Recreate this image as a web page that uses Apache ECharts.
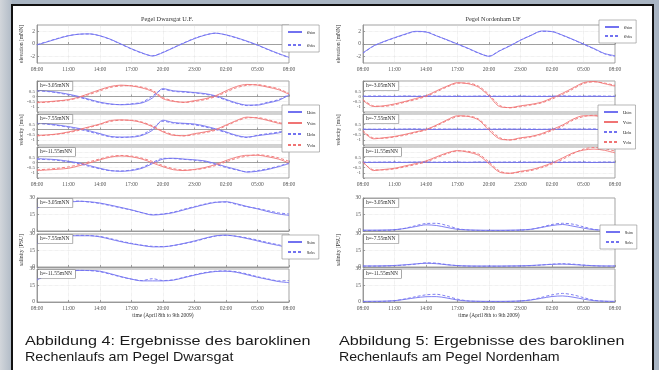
<!DOCTYPE html>
<html>
<head>
<meta charset="utf-8"/>
<title>Pegel Dwarsgat / Nordenham</title>
<style>
  html, body { margin: 0; padding: 0; background: #a9b5c3; }
  #chart { width: 659px; height: 370px; }
</style>
</head>
<body>
<div id="chart"></div>
<script src="https://cdn.jsdelivr.net/npm/echarts@6.0.0/dist/echarts.min.js"></script>
<script>
// time axis, hourly from 08:00 (April 8th) to 08:00 (April 9th)
var hours = ['08:00','09:00','10:00','11:00','12:00','13:00','14:00','15:00','16:00','17:00','18:00','19:00',
             '20:00','21:00','22:00','23:00','00:00','01:00','02:00','03:00','04:00','05:00','06:00','07:00','08:00'];
var depthLabels = ['h=-3.05mNN', 'h=-7.55mNN', 'h=-11.55mNN'];
var titles = ['Pegel Dwarsgat U.F.', 'Pegel Nordenham UF'];
var captions = [
  ['Abbildung 4: Ergebnisse des baroklinen', 'Rechenlaufs am Pegel Dwarsgat'],
  ['Abbildung 5: Ergebnisse des baroklinen', 'Rechenlaufs am Pegel Nordenham']
];
var elevTicks = [-2, 0, 2];
var velTicks = [-1.5, -1, -0.5, 0, 0.5, 1, 1.5];
var velLabels = [-1, -0.5, 0, 0.5];
var salTicks = [0, 15, 30];

// ---- Dwarsgat ----
var elevL_sim = [-0.15, 0.35, 0.85, 1.3, 1.55, 1.6, 1.3, 0.75, 0.0, -0.75, -1.4, -1.9, -1.35, -0.6, 0.15, 0.85, 1.4, 1.7, 1.45, 1.0, 0.45, -0.15, -0.85, -1.5, -2.1];
var elevL_obs = [-0.1, 0.4, 0.9, 1.32, 1.55, 1.58, 1.28, 0.7, -0.05, -0.8, -1.45, -1.85, -1.3, -0.55, 0.2, 0.9, 1.42, 1.72, 1.42, 0.95, 0.4, -0.2, -0.9, -1.55, -2.15];

var uL1_sim = [0.6, 0.52, 0.4, 0.22, 0.0, -0.28, -0.55, -0.72, -0.8, -0.75, -0.62, -0.14, 0.76, 0.55, 0.48, 0.38, 0.28, 0.07, -0.28, -0.62, -0.83, -0.83, -0.62, -0.38, 0.14];
var vL1_sim = [-0.55, -0.5, -0.42, -0.3, -0.05, 0.3, 0.66, 0.97, 1.1, 1.02, 0.83, 0.48, -0.21, -0.48, -0.55, -0.4, -0.22, 0.07, 0.55, 0.97, 1.17, 1.1, 0.9, 0.66, 0.21];
var uL1_obs = [0.55, 0.48, 0.35, 0.15, -0.08, -0.35, -0.6, -0.75, -0.78, -0.7, -0.55, 0.05, 0.68, 0.5, 0.42, 0.35, 0.22, 0.0, -0.35, -0.68, -0.88, -0.8, -0.55, -0.3, 0.2];
var vL1_obs = [-0.6, -0.55, -0.45, -0.35, -0.12, 0.2, 0.55, 0.88, 1.02, 1.05, 0.9, 0.6, -0.1, -0.42, -0.58, -0.48, -0.3, -0.02, 0.42, 0.85, 1.08, 1.15, 0.98, 0.75, 0.3];

var uL2_sim = [0.67, 0.55, 0.43, 0.28, 0.1, -0.13, -0.4, -0.67, -0.73, -0.73, -0.57, -0.07, 0.9, 0.67, 0.6, 0.53, 0.33, 0.07, -0.23, -0.57, -0.73, -0.6, -0.47, -0.33, -0.07];
var vL2_sim = [-0.57, -0.52, -0.42, -0.23, 0.0, 0.27, 0.53, 0.87, 0.93, 0.87, 0.67, 0.27, -0.23, -0.57, -0.6, -0.4, -0.23, 0.0, 0.43, 0.87, 1.2, 1.1, 0.87, 0.6, 0.43];
var uL2_obs = [0.6, 0.5, 0.38, 0.22, 0.02, -0.22, -0.48, -0.72, -0.78, -0.7, -0.5, 0.1, 0.8, 0.62, 0.55, 0.45, 0.25, 0.0, -0.3, -0.62, -0.78, -0.55, -0.4, -0.25, 0.0];
var vL2_obs = [-0.62, -0.55, -0.45, -0.3, -0.08, 0.2, 0.48, 0.78, 0.9, 0.9, 0.72, 0.35, -0.15, -0.5, -0.62, -0.5, -0.3, -0.08, 0.35, 0.8, 1.12, 1.15, 0.95, 0.68, 0.5];

var uL3_sim = [0.37, 0.33, 0.26, 0.12, -0.04, -0.3, -0.56, -0.78, -0.85, -0.78, -0.56, -0.11, 0.33, 0.41, 0.33, 0.26, 0.15, -0.11, -0.41, -0.67, -0.93, -0.85, -0.67, -0.41, -0.11];
var vL3_sim = [-0.78, -0.72, -0.65, -0.56, -0.32, -0.04, 0.26, 0.52, 0.63, 0.55, 0.33, -0.04, -0.41, -0.7, -0.78, -0.67, -0.48, -0.19, 0.19, 0.52, 0.7, 0.7, 0.55, 0.33, -0.04];
var uL3_obs = [0.3, 0.28, 0.2, 0.05, -0.12, -0.38, -0.62, -0.8, -0.82, -0.72, -0.48, 0.0, 0.4, 0.38, 0.3, 0.22, 0.08, -0.18, -0.48, -0.72, -0.9, -0.78, -0.6, -0.35, -0.05];
var vL3_obs = [-0.7, -0.65, -0.55, -0.42, -0.2, 0.08, 0.35, 0.6, 0.68, 0.62, 0.42, 0.1, -0.3, -0.6, -0.72, -0.7, -0.55, -0.3, 0.05, 0.4, 0.62, 0.75, 0.65, 0.45, 0.12];

var sL1_sim = [24.8, 26, 26.3, 26.3, 27, 26.6, 25.4, 23.5, 21.4, 19.2, 16.7, 14.5, 15.2, 16.7, 19.2, 21.7, 24.1, 26, 26.6, 24.8, 22.3, 20.1, 17.6, 15.5, 14.2];
var sL1_obs = [20.7, 24.8, 26.5, 27, 27.2, 26.2, 25, 23, 21, 19, 16.5, 15, 15.5, 17.2, 19.8, 22.2, 24.5, 26.2, 26.3, 24.2, 22, 20.5, 18.5, 16.5, 15.5];
var sL2_sim = [24.6, 26.8, 27.8, 28.4, 28.4, 28.4, 27.4, 25.2, 23, 21.1, 19.6, 18.3, 18.3, 19.6, 21.5, 23.7, 26.2, 28.4, 29, 27.8, 25.9, 23.7, 21.5, 19.6, 17.4];
var sL2_obs = [21.5, 25.5, 27.5, 28.2, 28.8, 28.6, 27.8, 25.8, 23.5, 21.5, 19.8, 18.8, 18.6, 19.5, 21.2, 23.2, 25.8, 28, 28.8, 28, 26.5, 24.5, 22.2, 20.2, 18.2];
var sL3_sim = [19.9, 24.8, 27, 28, 28.7, 28.7, 28, 25.7, 23.1, 20.8, 19.2, 19.2, 19.2, 19.9, 22.1, 24.4, 26.4, 27.7, 28, 27, 24.8, 22.5, 20.5, 18.6, 17.6];
var sL3_obs = [21.5, 25.5, 27.5, 28.5, 28.8, 28.5, 27.5, 25.2, 22.8, 20.8, 19.5, 21.2, 19.5, 20.2, 22.5, 24.8, 26.8, 28, 28.3, 27.5, 25.5, 23, 21, 19.2, 19.5];

// ---- Nordenham ----
var elevR_sim = [-1.4, -0.3, 0.4, 1.0, 1.55, 2.0, 1.9, 1.28, 0.67, 0.0, -0.67, -1.4, -1.95, -1.1, -0.3, 0.6, 1.35, 2.05, 1.95, 1.4, 0.72, 0.0, -0.72, -1.5, -1.85];
var elevR_obs = [-1.45, -0.35, 0.35, 0.95, 1.5, 1.95, 1.92, 1.3, 0.62, -0.05, -0.72, -1.45, -1.9, -1.05, -0.25, 0.62, 1.38, 2.0, 1.98, 1.35, 0.68, -0.05, -0.78, -1.55, -1.95];

var uR1_sim = [0.02, 0.0, 0.01, 0.0, 0.02, 0.01, 0.0, 0.02, 0.01, 0.0, 0.01, 0.02, 0.0, 0.01, 0.0, 0.02, 0.01, 0.0, 0.01, 0.02, 0.0, 0.01, 0.02, 0.0, 0.01];
var vR1_sim = [-0.38, -0.97, -0.9, -0.72, -0.48, -0.2, 0.07, 0.55, 1.0, 1.34, 1.24, 0.9, 0.05, -0.97, -1.07, -0.9, -0.76, -0.55, -0.14, 0.31, 0.83, 1.34, 1.45, 1.24, 1.0];
var uR1_obs = [0.03, 0.05, 0.04, 0.02, 0.05, 0.03, 0.06, 0.04, 0.03, 0.05, 0.02, 0.04, 0.06, 0.03, 0.04, 0.05, 0.02, 0.04, 0.03, 0.06, 0.04, 0.03, 0.05, 0.04, 0.03];
var vR1_obs = [-0.3, -0.9, -0.95, -0.8, -0.55, -0.3, 0.0, 0.45, 0.92, 1.28, 1.3, 1.0, 0.2, -0.85, -1.1, -0.98, -0.82, -0.62, -0.25, 0.2, 0.72, 1.25, 1.42, 1.3, 1.08];

var uR2_sim = [0.01, 0.02, 0.0, 0.01, 0.03, 0.02, 0.01, 0.0, 0.02, 0.03, 0.01, 0.0, 0.02, 0.01, 0.03, 0.02, 0.0, 0.01, 0.02, 0.01, 0.03, 0.02, 0.01, 0.0, 0.02];
var vR2_sim = [-0.2, -0.9, -0.8, -0.67, -0.47, -0.23, 0.0, 0.43, 0.93, 1.33, 1.27, 0.93, -0.07, -0.9, -1.0, -0.8, -0.67, -0.4, 0.0, 0.43, 1.0, 1.33, 1.33, 1.2, 1.0];
var uR2_obs = [0.04, 0.02, 0.05, 0.03, 0.04, 0.06, 0.03, 0.05, 0.04, 0.02, 0.05, 0.04, 0.03, 0.06, 0.04, 0.03, 0.05, 0.02, 0.04, 0.05, 0.03, 0.04, 0.06, 0.03, 0.04];
var vR2_obs = [-0.1, -0.82, -0.85, -0.72, -0.55, -0.3, -0.05, 0.35, 0.85, 1.25, 1.3, 1.02, 0.1, -0.78, -1.02, -0.88, -0.72, -0.48, -0.1, 0.32, 0.9, 1.25, 1.38, 1.28, 1.1];

var uR3_sim = [0.0, 0.01, 0.02, 0.0, 0.01, 0.03, 0.02, 0.01, 0.0, 0.02, 0.01, 0.03, 0.0, 0.02, 0.01, 0.0, 0.02, 0.03, 0.01, 0.0, 0.02, 0.01, 0.0, 0.02, 0.01];
var vR3_sim = [0.1, -0.78, -0.67, -0.56, -0.33, -0.11, 0.15, 0.55, 0.93, 1.15, 1.0, 0.7, -0.11, -0.93, -1.04, -0.85, -0.7, -0.41, -0.04, 0.44, 0.93, 1.2, 1.3, 1.18, 0.93];
var uR3_obs = [0.05, 0.03, 0.04, 0.06, 0.02, 0.04, 0.05, 0.03, 0.06, 0.04, 0.02, 0.05, 0.04, 0.03, 0.05, 0.06, 0.03, 0.04, 0.02, 0.05, 0.04, 0.06, 0.03, 0.05, 0.04];
var vR3_obs = [0.0, -0.7, -0.72, -0.62, -0.42, -0.2, 0.05, 0.45, 0.85, 1.12, 1.08, 0.82, 0.05, -0.82, -1.05, -0.92, -0.78, -0.5, -0.15, 0.3, 0.85, 1.3, 1.45, 1.35, 1.1];

var sR1_sim = [0.8, 0.8, 0.9, 1.2, 2.3, 4.0, 5.6, 5.0, 3.2, 1.5, 1.0, 0.8, 0.7, 0.7, 0.8, 1.0, 1.6, 3.2, 5.0, 5.9, 4.4, 2.6, 1.2, 0.9, 0.8];
var sR1_obs = [0.5, 0.5, 0.6, 1.0, 2.5, 4.8, 6.8, 7.0, 5.0, 2.2, 0.9, 0.5, 0.4, 0.4, 0.5, 0.7, 1.5, 3.6, 5.9, 7.0, 6.2, 3.8, 1.5, 0.6, 0.5];
var sR2_sim = [1.0, 1.0, 1.1, 1.4, 2.0, 2.8, 3.4, 3.0, 2.0, 1.3, 1.0, 0.9, 0.9, 0.9, 1.0, 1.1, 1.4, 1.9, 2.4, 2.6, 2.2, 1.6, 1.2, 1.0, 1.0];
var sR2_obs = [0.8, 0.8, 0.9, 1.2, 1.8, 2.6, 3.8, 3.5, 2.2, 1.2, 0.8, 0.7, 0.7, 0.7, 0.8, 0.9, 1.2, 1.8, 2.6, 3.0, 2.6, 1.8, 1.1, 0.8, 0.8];
var sR3_sim = [0.6, 0.7, 0.8, 1.2, 2.4, 3.8, 4.8, 4.9, 3.6, 1.8, 0.9, 0.7, 0.6, 0.6, 0.7, 1.0, 1.8, 3.4, 5.0, 5.5, 4.4, 2.6, 1.2, 0.8, 0.6];
var sR3_obs = [0.4, 0.4, 0.6, 1.2, 2.8, 4.8, 6.5, 7.0, 5.2, 2.6, 1.0, 0.5, 0.4, 0.4, 0.5, 0.9, 2.0, 4.2, 6.5, 7.8, 6.5, 4.0, 1.6, 0.6, 0.4];

var SERIF = 'Liberation Serif';
var AX = '#8a8a8a';
var GRIDLINE = '#d6d6d6';
var BLUE = '#7272f0';
var RED = '#f07474';
var W = 252;

var figs = [
  { key: 'L', left: 37, ylabX: 22, capX: 25, capScale: [1.2, 1.06], legendLeft: [282, 282, 282], legendTop: [25, 105, 235],
    elev: [elevL_sim, elevL_obs],
    vel: [[uL1_sim, vL1_sim, uL1_obs, vL1_obs], [uL2_sim, vL2_sim, uL2_obs, vL2_obs], [uL3_sim, vL3_sim, uL3_obs, vL3_obs]],
    sal: [[sL1_sim, sL1_obs], [sL2_sim, sL2_obs], [sL3_sim, sL3_obs]] },
  { key: 'R', left: 363, ylabX: 339, capX: 339, capScale: [1.2, 1.05], legendLeft: [599, 598, 600], legendTop: [20, 105, 225],
    elev: [elevR_sim, elevR_obs],
    vel: [[uR1_sim, vR1_sim, uR1_obs, vR1_obs], [uR2_sim, vR2_sim, uR2_obs, vR2_obs], [uR3_sim, vR3_sim, uR3_obs, vR3_obs]],
    sal: [[sR1_sim, sR1_obs], [sR2_sim, sR2_obs], [sR3_sim, sR3_obs]] }
];

var velTops = [81, 114, 147], velH = 31;
var salTops = [198, 234, 269], salH = 33;

var grids = [], xAxes = [], yAxes = [], series = [], legends = [], graphics = [];

function addPanel(left, top, height, showX, yr, lines) {
  var i = grids.length;
  grids.push({ left: left, top: top, width: W, height: height, show: true,
               backgroundColor: '#fff', borderColor: AX, borderWidth: 0.8 });
  xAxes.push({
    gridIndex: i, type: 'category', data: hours, boundaryGap: false,
    axisLine: { lineStyle: { color: AX, width: 0.8 } },
    axisTick: { inside: true, length: 2, interval: 2, lineStyle: { color: AX, width: 0.8 } },
    axisLabel: { show: showX, interval: 2, fontSize: 5.5, fontFamily: SERIF, color: '#555', margin: 4 },
    splitLine: { show: true, interval: 2, lineStyle: { color: GRIDLINE, type: 'dotted', width: 0.6 } }
  });
  yAxes.push({
    gridIndex: i, type: 'value', min: yr.min, max: yr.max,
    axisLine: { show: true, lineStyle: { color: AX, width: 0.8 } },
    axisTick: { show: true, inside: true, length: 2, customValues: yr.ticks, lineStyle: { color: AX, width: 0.8 } },
    axisLabel: { customValues: yr.labels, showMinLabel: true, showMaxLabel: true, hideOverlap: false,
                 fontSize: yr.font || 5.5, fontFamily: SERIF, color: '#555', margin: 2 },
    splitLine: { show: true, lineStyle: { color: GRIDLINE, type: 'dotted', width: 0.6 } }
  });
  lines.forEach(function (l) {
    series.push({
      type: 'line', name: l.name, xAxisIndex: i, yAxisIndex: i, data: l.data,
      symbol: 'none', smooth: 0.3, silent: true,
      lineStyle: { color: l.color, width: 0.9, type: l.dashed ? [3, 2] : 'solid' },
      itemStyle: { color: l.color }
    });
  });
}

function addLegend(left, top, names, gap) {
  legends.push({
    orient: 'vertical', left: left, top: top, data: names, selectedMode: false,
    padding: [4, 4, 4, 5], itemWidth: 14, itemHeight: 6, itemGap: gap,
    backgroundColor: '#fff', borderColor: '#888', borderWidth: 0.6,
    itemStyle: { opacity: 0 },
    formatter: function (name) {
      var p = name.split('|')[1].split('_');
      return '{m|' + p[0] + '}{s|' + p[1] + '}';
    },
    textStyle: {
      rich: {
        m: { fontSize: 6, fontFamily: SERIF, color: '#333' },
        s: { fontSize: 3.8, fontFamily: SERIF, color: '#333', verticalAlign: 'bottom' }
      }
    }
  });
}

function text(x, y, str, size, opts) {
  var el = {
    type: 'text', x: x, y: y, z: 50,
    style: { text: str, fontSize: size, fontFamily: SERIF, fill: '#333', align: 'center', verticalAlign: 'middle' }
  };
  if (opts) {
    for (var k in opts) {
      if (k === 'style') { for (var s in opts.style) el.style[s] = opts.style[s]; }
      else el[k] = opts[k];
    }
  }
  graphics.push(el);
}

var boxStyle = { align: 'left', verticalAlign: 'top', backgroundColor: '#fff',
                 borderColor: '#777', borderWidth: 0.6, padding: [1, 3, 1, 2] };

figs.forEach(function (f, fi) {
  var k = f.key + '|';
  // elevation
  addPanel(f.left, 25, 38, true, { min: -3, max: 3, ticks: elevTicks, labels: elevTicks }, [
    { name: k + 'e_sim', data: f.elev[0], color: BLUE },
    { name: k + 'e_obs', data: f.elev[1], color: BLUE, dashed: true }
  ]);
  // velocity
  velTops.forEach(function (t, j) {
    var d = f.vel[j];
    addPanel(f.left, t, velH, j === 2, { min: -1.5, max: 1.5, ticks: velTicks, labels: velLabels, font: 5 }, [
      { name: k + 'u_sim', data: d[0], color: BLUE },
      { name: k + 'v_sim', data: d[1], color: RED },
      { name: k + 'u_obs', data: d[2], color: BLUE, dashed: true },
      { name: k + 'v_obs', data: d[3], color: RED, dashed: true }
    ]);
    text(f.left + 1, t + 1, depthLabels[j], 5.5, { style: boxStyle });
  });
  // salinity
  salTops.forEach(function (t, j) {
    var d = f.sal[j];
    addPanel(f.left, t, salH, j === 2, { min: 0, max: 30, ticks: salTicks, labels: salTicks }, [
      { name: k + 's_sim', data: d[0], color: BLUE },
      { name: k + 's_obs', data: d[1], color: BLUE, dashed: true }
    ]);
    text(f.left + 1, t + 1, depthLabels[j], 5.5, { style: boxStyle });
  });

  addLegend(f.legendLeft[0], f.legendTop[0], [k + 'e_sim', k + 'e_obs'], fi === 0 ? 7 : 3);
  addLegend(f.legendLeft[1], f.legendTop[1], [k + 'u_sim', k + 'v_sim', k + 'u_obs', k + 'v_obs'], fi === 0 ? 5 : 4);
  addLegend(f.legendLeft[2], f.legendTop[2], [k + 's_sim', k + 's_obs'], 4);

  var cx = f.left + W / 2;
  text(cx + 4, 19, titles[fi], 6.3);
  text(f.ylabX, 44, 'elevation [mNN]', 5.6, { rotation: Math.PI / 2 });
  text(f.ylabX, 130, 'velocity [m/s]', 5.6, { rotation: Math.PI / 2 });
  text(f.ylabX, 250, 'salinity [PSU]', 5.6, { rotation: Math.PI / 2 });
  text(cx, 316, 'time (April 8th to 9th 2009)', 5.5);

  captions[fi].forEach(function (c, li) {
    graphics.push({
      type: 'text', x: f.capX, y: 341 + li * 16, z: 50, scaleX: f.capScale[li],
      style: { text: c, fontSize: 13.5, fontFamily: 'Liberation Sans', fill: '#1a1a1a', verticalAlign: 'middle' }
    });
  });
});

// slide background and white frame
graphics.unshift(
  { type: 'rect', z: -20, shape: { x: 0, y: 0, width: 12, height: 370 },
    style: { fill: new echarts.graphic.LinearGradient(0, 0, 1, 0, [
      { offset: 0, color: '#d2d6db' }, { offset: 1, color: '#b0bac6' }]) } },
  { type: 'rect', z: -10, shape: { x: 12, y: 5, width: 641, height: 372 },
    style: { fill: '#fff', stroke: '#111', lineWidth: 2 } }
);

var chart = echarts.init(document.getElementById('chart'));
chart.setOption({
  backgroundColor: '#a9b5c3',
  animation: false,
  grid: grids,
  xAxis: xAxes,
  yAxis: yAxes,
  legend: legends,
  series: series,
  graphic: { elements: graphics }
});
</script>
</body>
</html>
